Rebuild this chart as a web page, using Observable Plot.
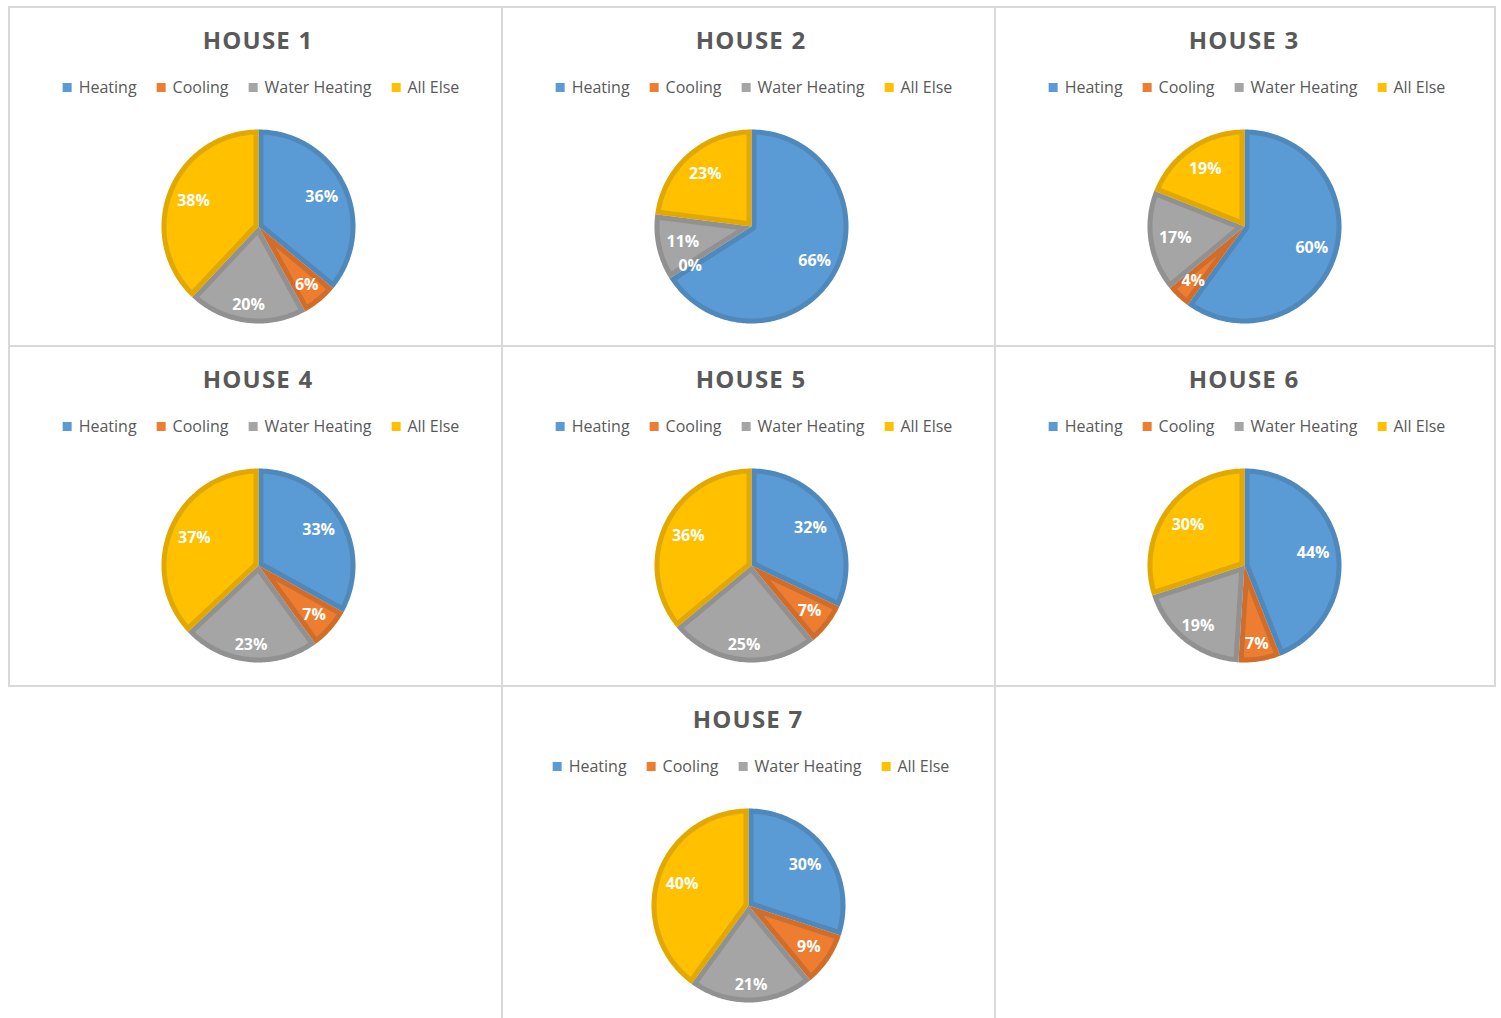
<!DOCTYPE html>
<html>
<head>
<meta charset="utf-8">
<script src="https://cdn.jsdelivr.net/npm/d3@7"></script>
<script src="https://cdn.jsdelivr.net/npm/@observablehq/plot@0.6"></script>
<style>
  html, body { margin: 0; padding: 0; background: #fff; }
  body { width: 1501px; height: 1018px; position: relative; overflow: hidden; font-family: "Open Sans", sans-serif; }
  .panel { position: absolute; box-sizing: border-box; border: 2px solid #d9d9d9; }
  .title { position: absolute; transform: translateX(-50%); white-space: nowrap; font-weight: 700; font-size: 24px; letter-spacing: 1.2px; color: #595959; line-height: 1; }
  .legend { position: absolute; transform: translateX(-50%); white-space: nowrap; display: flex; align-items: center; font-size: 16px; color: #595959; line-height: 1; }
  .legend .item { display: flex; align-items: center; margin: 0 10px; }
  .legend .sw { width: 9px; height: 9px; margin-right: 7px; }
  .pie { position: absolute; }
</style>
</head>
<body>
<script>
// ---- data ----
const houses = ["HOUSE 1", "HOUSE 2", "HOUSE 3", "HOUSE 4", "HOUSE 5", "HOUSE 6", "HOUSE 7"];
const categories = ["Heating", "Cooling", "Water Heating", "All Else"];
const heating      = [36, 66, 60, 33, 32, 44, 30];
const cooling      = [6, 0, 4, 7, 7, 7, 9];
const waterHeating = [20, 11, 17, 23, 25, 19, 21];
const allElse      = [38, 23, 19, 37, 36, 30, 40];
const colors = ["#5B9BD5", "#ED7D31", "#A5A5A5", "#FFC000"];

// ---- layout (panel boxes & content centres, in page pixels) ----
const panels = [
  {left: 8, top: 6, w: 495, h: 341, cx: 258},
  {left: 501, top: 6, w: 495, h: 341, cx: 751},
  {left: 994, top: 6, w: 502, h: 341, cx: 1244},
  {left: 8, top: 345, w: 495, h: 342, cx: 258},
  {left: 501, top: 345, w: 495, h: 342, cx: 751},
  {left: 994, top: 345, w: 502, h: 342, cx: 1244},
  {left: 501, top: 685, w: 495, h: 360, cx: 748}
];
const R = 97, SIZE = 204, L = (SIZE / 2) / R, W = 5 / R;

function arcPts(r, a0, a1, step = Math.PI / 180) {
  const n = Math.max(2, Math.ceil((a1 - a0) / step) + 1);
  const pts = [];
  for (let i = 0; i < n; i++) {
    const a = a0 + (a1 - a0) * i / (n - 1);
    pts.push([r * Math.sin(a), r * Math.cos(a)]);
  }
  return pts;
}
function fullSlice(a0, a1) { return [[0, 0], ...arcPts(1, a0, a1), [0, 0]]; }
function insetSlice(a0, a1, w) {
  const span = a1 - a0, rho = 1 - w, d = Math.asin(w / rho);
  if (span <= 2 * d + 0.02) return [];
  const outer = arcPts(rho, a0 + d, a1 - d);
  if (span < Math.PI) {
    const dist = w / Math.sin(span / 2), m = (a0 + a1) / 2;
    const apex = [dist * Math.sin(m), dist * Math.cos(m)];
    return [apex, ...outer, apex];
  }
  const inner = arcPts(w, a0 + Math.PI / 2, a1 - Math.PI / 2).reverse();
  return [...inner, ...outer, inner[0]];
}

houses.forEach((name, i) => {
  const p = panels[i];
  const box = document.createElement("div");
  box.className = "panel";
  Object.assign(box.style, {left: p.left + "px", top: p.top + "px", width: p.w + "px", height: p.h + "px"});
  document.body.appendChild(box);

  const t = document.createElement("div");
  t.className = "title";
  t.textContent = name;
  Object.assign(t.style, {left: p.cx + "px", top: (p.top + 22) + "px"});
  document.body.appendChild(t);

  const lg = document.createElement("div");
  lg.className = "legend";
  categories.forEach((c, k) => {
    const it = document.createElement("div");
    it.className = "item";
    it.innerHTML = `<span class="sw" style="background:${colors[k]}"></span><span>${c}</span>`;
    lg.appendChild(it);
  });
  Object.assign(lg.style, {left: (p.cx + 3) + "px", top: (p.top + 73) + "px"});
  document.body.appendChild(lg);

  const values = [heating[i], cooling[i], waterHeating[i], allElse[i]];
  const rows = categories.map((c, k) => ({category: c, value: values[k]}));
  const arcs = d3.pie().sort(null).value(d => d.value)(rows);

  const full = [], inset = [], labels = [];
  arcs.forEach((a, k) => {
    if (a.endAngle - a.startAngle > 0) {
      fullSlice(a.startAngle, a.endAngle).forEach(([x, y]) => full.push({key: k, category: a.data.category, x, y}));
      insetSlice(a.startAngle, a.endAngle, W).forEach(([x, y]) => inset.push({key: k, category: a.data.category, x, y}));
    }
    const m = (a.startAngle + a.endAngle) / 2;
    const down = Math.max(0, -Math.cos(m));
    const lr = 0.72 + 0.1 * down * down;
    labels.push({x: lr * Math.sin(m), y: lr * Math.cos(m), text: a.data.value + "%"});
  });

  const chart = Plot.plot({
    width: SIZE, height: SIZE, margin: 0,
    x: {domain: [-L, L], axis: null},
    y: {domain: [-L, L], axis: null},
    color: {domain: categories, range: colors},
    style: {background: "transparent", fontFamily: "Open Sans, sans-serif", overflow: "visible"},
    marks: [
      Plot.line(full, {x: "x", y: "y", z: "key", fill: "category", stroke: "none"}),
      Plot.line(full, {x: "x", y: "y", z: "key", fill: "black", fillOpacity: 0.12, stroke: "none"}),
      Plot.line(inset, {x: "x", y: "y", z: "key", fill: "category", stroke: "none"}),
      Plot.text(labels, {x: "x", y: "y", text: "text", fill: "white", fontSize: 16, fontWeight: "bold"})
    ]
  });
  chart.classList.add("pie");
  Object.assign(chart.style, {left: (p.cx - SIZE / 2) + "px", top: (p.top + 220 - SIZE / 2) + "px"});
  document.body.appendChild(chart);
});
</script>
</body>
</html>
